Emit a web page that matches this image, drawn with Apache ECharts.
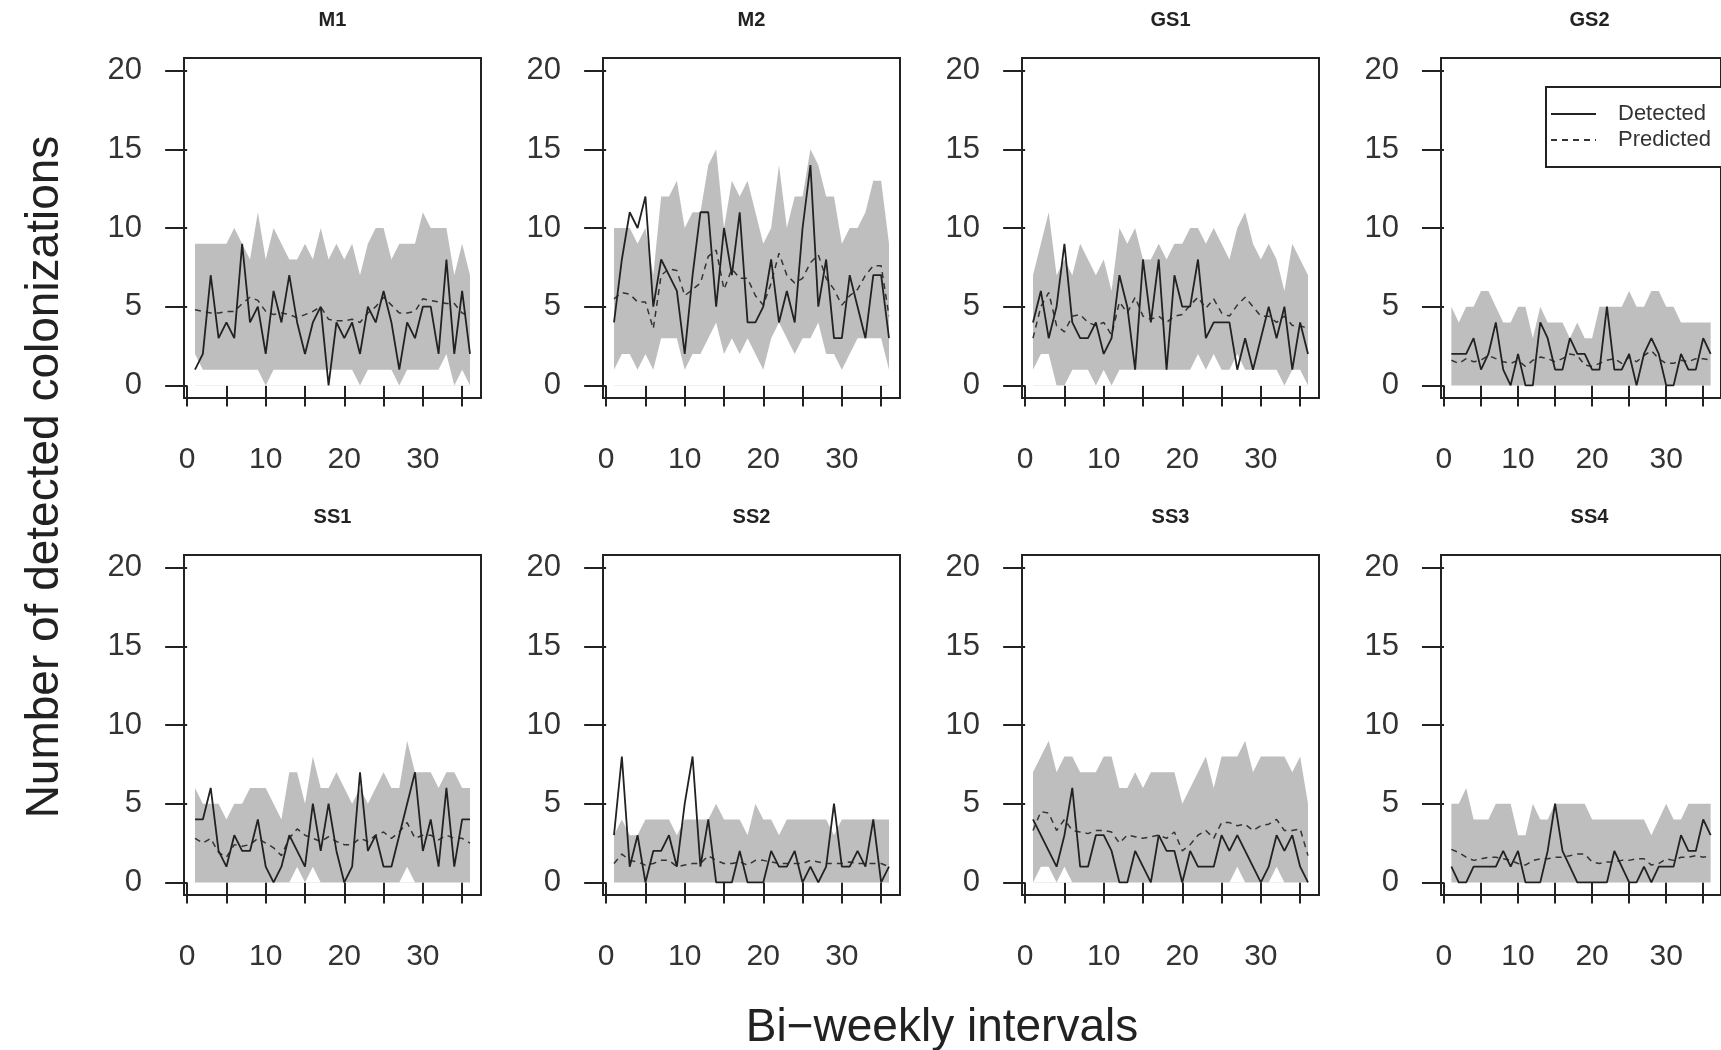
<!DOCTYPE html>
<html>
<head>
<meta charset="utf-8">
<script src="https://cdn.jsdelivr.net/npm/echarts@6/dist/echarts.min.js"></script>
<style>
  html, body { margin: 0; padding: 0; background: #fff; }
  #main { width: 1721px; height: 1050px; }
</style>
</head>
<body>
<div id="main"></div>
<script>
// bi-weekly interval index
var weeks = [1,2,3,4,5,6,7,8,9,10,11,12,13,14,15,16,17,18,19,20,21,22,23,24,25,26,27,28,29,30,31,32,33,34,35,36];
var yTicks = [0,5,10,15,20];
var xTicks = [0,5,10,15,20,25,30,35];
var xLabels = [0,10,20,30];

// M1
var detM1  = [1,2,7,3,4,3,9,4,5,2,6,4,7,4,2,4,5,0,4,3,4,2,5,4,6,4,1,4,3,5,5,2,8,2,6,2];
var predM1 = [4.8,4.7,4.6,4.6,4.7,4.7,5.2,5.6,5.4,4.7,4.5,4.6,4.5,4.3,4.5,4.7,5.0,4.2,4.1,4.1,4.2,4.0,4.6,5.0,5.6,5.1,4.6,4.6,4.7,5.5,5.4,5.3,5.2,5.2,4.6,4.4];
var loM1   = [2,1,1,1,1,1,1,1,1,0,1,1,1,1,1,1,1,1,1,1,1,0,1,1,1,1,0,1,1,1,1,1,2,0,1,0];
var hiM1   = [9,9,9,9,9,10,9,8,11,8,10,9,8,8,9,8,10,8,9,8,9,7,9,10,10,8,9,9,9,11,10,10,10,7,9,7];
// M2
var detM2  = [4,8,11,10,12,5,8,7,6,2,7,11,11,5,10,7,11,4,4,5,8,4,6,4,10,14,5,8,3,3,7,5,3,7,7,3];
var predM2 = [5.5,5.9,5.8,5.3,5.3,3.6,7.0,7.4,7.3,5.7,6.1,6.5,8.2,8.6,6.1,7.4,6.8,6.8,5.7,5.1,6.5,8.4,7.0,6.5,6.8,7.8,8.3,6.8,6.1,5.1,5.7,6.1,7.0,7.6,7.6,4.4];
var loM2   = [1,2,2,1,2,1,3,3,3,1,2,2,3,4,2,3,2,3,2,1,3,4,3,2,3,3,4,2,2,1,2,3,3,3,3,1];
var hiM2   = [10,10,10,9,10,7,12,12,13,10,11,11,14,15,10,13,12,13,11,9,10,14,10,12,12,15,14,12,12,9,10,10,11,13,13,9];
// GS1
var detGS1  = [4,6,3,5,9,4,3,3,4,2,3,7,5,1,8,4,8,1,7,5,5,8,3,4,4,4,1,3,1,3,5,3,5,1,4,2];
var predGS1 = [3.0,5.0,5.9,3.8,3.4,4.4,4.5,4.0,3.8,4.0,3.2,5.3,4.6,5.6,4.4,4.2,4.4,4.0,4.4,4.5,5.1,5.6,4.9,5.5,4.6,4.4,5.1,5.6,5.0,4.4,4.4,4.0,4.4,3.8,3.8,3.6];
var loGS1   = [1,2,2,0,0,1,1,1,0,1,0,1,1,1,1,1,1,1,1,1,1,2,1,2,1,1,2,1,1,1,1,1,0,1,1,0];
var hiGS1   = [7,9,11,7,8,7,9,8,7,8,6,10,9,10,8,8,9,8,9,9,10,10,9,10,9,8,10,11,9,8,9,8,6,9,8,7];
// GS2
var detGS2  = [2,2,2,3,1,2,4,1,0,2,0,0,4,3,1,1,3,2,2,1,1,5,1,1,2,0,2,3,2,0,0,2,1,1,3,2];
var predGS2 = [1.6,1.4,1.7,1.5,1.6,1.9,1.7,1.5,1.4,1.6,1.2,1.6,1.8,1.7,1.5,1.7,2.0,1.9,1.3,1.2,1.4,1.6,1.7,1.4,1.8,1.5,1.9,2.2,1.7,1.4,1.4,1.6,1.5,1.7,1.7,1.6];
var loGS2   = [0,0,0,0,0,0,0,0,0,0,0,0,0,0,0,0,0,0,0,0,0,0,0,0,0,0,0,0,0,0,0,0,0,0,0,0];
var hiGS2   = [5,4,5,5,6,6,5,4,4,5,5,3,5,4,4,4,3,4,3,3,5,5,5,5,6,5,5,6,6,5,5,4,4,4,4,4];
// SS1
var detSS1  = [4,4,6,2,1,3,2,2,4,1,0,1,3,2,1,5,2,5,2,0,1,7,2,3,1,1,3,5,7,2,4,1,6,1,4,4];
var predSS1 = [2.8,2.5,2.8,1.9,1.6,2.4,2.3,2.4,2.8,2.5,2.2,1.7,2.8,3.4,3.0,2.8,2.6,2.9,2.6,2.4,2.4,2.8,2.6,3.0,3.2,2.8,3.2,3.8,2.8,3.0,3.0,2.7,3.0,2.8,2.8,2.5];
var loSS1   = [0,0,0,0,0,0,0,0,0,0,0,0,0,1,0,1,0,0,0,0,0,0,0,0,0,0,0,1,0,0,0,0,0,0,0,0];
var hiSS1   = [6,5,5,5,4,5,5,6,6,6,5,4,7,7,5,8,6,6,7,6,5,6,5,6,7,6,6,9,7,7,7,6,7,7,6,6];
// SS2
var detSS2  = [3,8,1,3,0,2,2,3,1,5,8,1,4,0,0,0,2,0,0,0,2,1,1,2,0,1,0,1,5,1,1,2,1,4,0,1];
var predSS2 = [1.2,1.8,1.4,1.3,1.1,1.2,1.4,1.4,1.0,1.1,1.2,1.2,1.7,1.4,1.2,1.2,1.3,1.1,1.4,1.4,1.3,1.2,1.2,1.2,1.2,1.4,1.3,1.2,1.2,1.2,1.3,1.2,1.2,1.2,1.2,1.0];
var loSS2   = [0,0,0,0,0,0,0,0,0,0,0,0,0,0,0,0,0,0,0,0,0,0,0,0,0,0,0,0,0,0,0,0,0,0,0,0];
var hiSS2   = [3,4,3,3,4,4,4,4,3,4,4,4,4,5,4,4,4,3,5,4,4,3,4,4,4,4,4,4,3,4,4,4,4,4,4,4];
// SS3
var detSS3  = [4,3,2,1,3,6,1,1,3,3,2,0,0,2,1,0,3,2,2,0,2,1,1,1,3,2,3,2,1,0,1,3,2,3,1,0];
var predSS3 = [3.3,4.5,4.4,3.3,4.0,3.3,3.2,3.1,3.3,3.3,3.2,2.5,3.0,2.9,2.8,2.9,3.0,2.8,3.2,2.0,2.4,3.0,3.3,2.8,3.8,3.8,3.6,3.7,3.3,3.6,3.7,4.0,3.3,3.3,3.4,1.7];
var loSS3   = [0,1,1,0,1,0,0,0,0,0,0,0,0,0,0,0,0,0,0,0,0,0,0,0,0,0,1,0,0,0,0,1,0,0,0,0];
var hiSS3   = [7,8,9,7,8,8,7,7,7,8,8,6,6,7,6,7,7,7,7,5,6,7,8,6,8,8,8,9,7,8,8,8,8,7,8,5];
// SS4
var detSS4  = [1,0,0,1,1,1,1,2,1,2,0,0,0,2,5,2,1,0,0,0,0,0,2,1,0,0,1,0,1,1,1,3,2,2,4,3];
var predSS4 = [2.1,1.9,1.6,1.4,1.5,1.6,1.6,1.5,1.4,1.2,1.1,1.4,1.5,1.5,1.6,1.6,1.7,1.8,1.8,1.3,1.2,1.3,1.3,1.4,1.4,1.5,1.5,1.1,1.2,1.5,1.4,1.6,1.6,1.7,1.6,1.7];
var loSS4   = [0,0,0,0,0,0,0,0,0,0,0,0,0,0,0,0,0,0,0,0,0,0,0,0,0,0,0,0,0,0,0,0,0,0,0,0];
var hiSS4   = [5,5,6,4,4,4,5,5,5,3,3,5,4,4,5,5,5,5,5,4,4,4,4,4,4,4,4,3,4,5,4,4,5,5,5,5];

var panels = [
  { name: 'M1',  det: detM1,  pred: predM1,  lo: loM1,  hi: hiM1 },
  { name: 'M2',  det: detM2,  pred: predM2,  lo: loM2,  hi: hiM2 },
  { name: 'GS1', det: detGS1, pred: predGS1, lo: loGS1, hi: hiGS1 },
  { name: 'GS2', det: detGS2, pred: predGS2, lo: loGS2, hi: hiGS2 },
  { name: 'SS1', det: detSS1, pred: predSS1, lo: loSS1, hi: hiSS1 },
  { name: 'SS2', det: detSS2, pred: predSS2, lo: loSS2, hi: hiSS2 },
  { name: 'SS3', det: detSS3, pred: predSS3, lo: loSS3, hi: hiSS3 },
  { name: 'SS4', det: detSS4, pred: predSS4, lo: loSS4, hi: hiSS4 }
];

var FONT = '"Liberation Sans", Arimo, Helvetica, Arial, sans-serif';
var INK = '#222';
var colLeft = [184, 603, 1022, 1441];
var rowTop = [58, 555];
var boxW = 297, boxH = 340;

function pairs(vals) {
  return weeks.map(function (w, i) { return [w, vals[i]]; });
}

var grids = [], xAxes = [], yAxes = [], series = [], graphics = [];

panels.forEach(function (p, k) {
  var left = colLeft[k % 4], top = rowTop[Math.floor(k / 4)];
  grids.push({
    left: left, top: top, width: boxW, height: boxH,
    show: true, borderColor: INK, borderWidth: 2, backgroundColor: 'transparent'
  });
  xAxes.push({
    type: 'value', gridIndex: k, min: -0.4, max: 37.4,
    axisLine: { show: false },
    axisTick: { show: true, length: 21, customValues: xTicks, lineStyle: { color: INK, width: 2 } },
    axisLabel: { customValues: xLabels, margin: 47, fontSize: 30, color: '#333', fontFamily: FONT },
    splitLine: { show: false }
  });
  yAxes.push({
    type: 'value', gridIndex: k, min: -0.8, max: 20.8,
    axisLine: { show: false },
    axisTick: { show: true, length: 22, customValues: yTicks, lineStyle: { color: INK, width: 2 } },
    axisLabel: { customValues: yTicks, margin: 42, fontSize: 31, color: '#333', fontFamily: FONT },
    splitLine: { show: false }
  });
  // grey interval band: upper bound filled grey to 0, lower bound filled white to 0
  series.push({
    type: 'line', xAxisIndex: k, yAxisIndex: k,
    data: pairs(p.hi), symbol: 'none', silent: true,
    lineStyle: { width: 0, opacity: 0 },
    areaStyle: { color: '#bebebe', opacity: 1, origin: 0 }, z: 1
  });
  series.push({
    type: 'line', xAxisIndex: k, yAxisIndex: k,
    data: pairs(p.lo), symbol: 'none', silent: true,
    lineStyle: { width: 0, opacity: 0 },
    areaStyle: { color: '#ffffff', opacity: 1, origin: 0 }, z: 2
  });
  series.push({
    name: 'Predicted', type: 'line', xAxisIndex: k, yAxisIndex: k,
    data: pairs(p.pred), symbol: 'none',
    lineStyle: { color: '#333', width: 1.5, type: [6, 5] }, z: 3
  });
  series.push({
    name: 'Detected', type: 'line', xAxisIndex: k, yAxisIndex: k,
    data: pairs(p.det), symbol: 'none',
    lineStyle: { color: INK, width: 1.8 }, z: 4
  });
  graphics.push({
    type: 'text', x: left + boxW / 2, y: top - 38,
    style: { text: p.name, font: 'bold 20px ' + FONT, fill: INK, align: 'center', verticalAlign: 'middle' }
  });
});

graphics.push({
  type: 'text', x: 45, y: 477, rotation: Math.PI / 2,
  style: { text: 'Number of detected colonizations', font: '46px ' + FONT, fill: INK, align: 'center', verticalAlign: 'middle' }
});
graphics.push({
  type: 'text', x: 942, y: 1028,
  style: { text: 'Bi\u2212weekly intervals', font: '46px ' + FONT, fill: INK, align: 'center', verticalAlign: 'middle' }
});

var chart = echarts.init(document.getElementById('main'));
chart.setOption({
  animation: false,
  backgroundColor: '#fff',
  grid: grids,
  xAxis: xAxes,
  yAxis: yAxes,
  legend: {
    data: ['Detected', 'Predicted'],
    orient: 'vertical', left: 1546, top: 87,
    padding: [16, 60, 16, 4], itemGap: 4,
    itemWidth: 45, itemHeight: 14,
    borderColor: INK, borderWidth: 2, backgroundColor: '#fff',
    selectedMode: false,
    itemStyle: { opacity: 0 },
    textStyle: { fontSize: 22, lineHeight: 22, color: '#333', fontFamily: FONT, padding: [0, 0, 0, 17] }
  },
  graphic: graphics,
  series: series
});
</script>
</body>
</html>
